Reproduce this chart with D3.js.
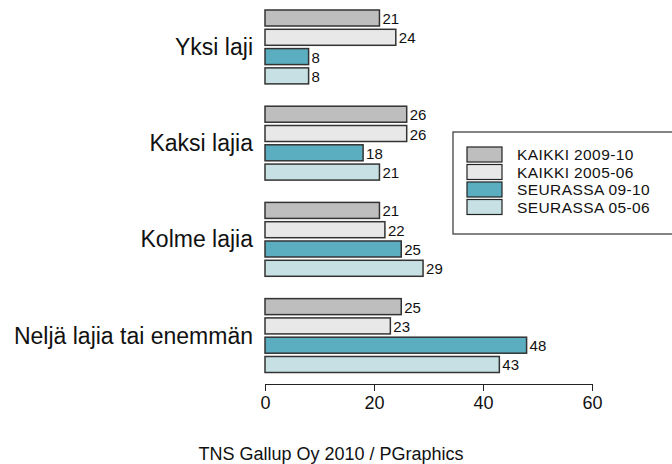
<!DOCTYPE html>
<html>
<head>
<meta charset="utf-8">
<script src="https://cdn.jsdelivr.net/npm/d3@7"></script>
<style>
  body { margin: 0; background: #fff; }
  text { font-family: "Liberation Sans", Arial, sans-serif; fill: #111; }
</style>
</head>
<body>
<div id="chart"></div>
<script>
// data
const groups = ["Yksi laji", "Kaksi lajia", "Kolme lajia", "Neljä lajia tai enemmän"];
const series = ["KAIKKI 2009-10", "KAIKKI 2005-06", "SEURASSA 09-10", "SEURASSA 05-06"];
const kaikki0910 = [21, 26, 21, 25];
const kaikki0506 = [24, 26, 22, 23];
const seurassa0910 = [8, 18, 25, 48];
const seurassa0506 = [8, 21, 29, 43];
const xTicks = [0, 20, 40, 60];
const colors = ["#bebebe", "#e8e8e8", "#5aaec0", "#c6e0e4"];

const values = [kaikki0910, kaikki0506, seurassa0910, seurassa0506];

const W = 672, H = 464;
const svg = d3.select("#chart").append("svg")
  .attr("width", W).attr("height", H);

const x = d3.scaleLinear().domain([0, 60]).range([265, 592]);

// group bands, then bars inside each group
const y0 = d3.scaleBand().domain(groups).range([10, 372.5]).paddingInner(0.232).paddingOuter(0);
const y1 = d3.scaleBand().domain(series).range([0, y0.bandwidth()]).paddingInner(0.17).paddingOuter(0);

const g = svg.selectAll("g.group")
  .data(groups)
  .enter().append("g")
  .attr("class", "group")
  .attr("transform", d => "translate(0," + y0(d) + ")");

g.append("text")
  .attr("x", 253)
  .attr("y", y0.bandwidth() / 2)
  .attr("dy", "0.35em")
  .attr("text-anchor", "end")
  .style("font-size", "23px")
  .text(d => d);

g.each(function(grp, gi) {
  const rows = series.map((s, si) => ({ s: s, v: values[si][gi], c: colors[si] }));
  const sel = d3.select(this);
  sel.selectAll("rect")
    .data(rows)
    .enter().append("rect")
    .attr("x", x(0))
    .attr("y", d => y1(d.s))
    .attr("width", d => x(d.v) - x(0))
    .attr("height", y1.bandwidth())
    .style("fill", d => d.c)
    .style("stroke", "#333")
    .style("stroke-width", "1.5px");
  sel.selectAll("text.val")
    .data(rows)
    .enter().append("text")
    .attr("class", "val")
    .attr("x", d => x(d.v) + 3)
    .attr("y", d => y1(d.s) + y1.bandwidth() / 2)
    .attr("dy", "0.4em")
    .style("font-size", "15px")
    .text(d => d.v);
});

// x axis, R style: line only between the outer ticks, ticks pointing down
const axis = svg.append("g")
  .attr("transform", "translate(0,384)")
  .call(d3.axisBottom(x).tickValues(xTicks).tickSize(7).tickPadding(5).tickSizeOuter(0));
axis.select(".domain").attr("stroke", "#222");
axis.selectAll(".tick line").attr("stroke", "#222");
axis.selectAll(".tick text")
  .style("font-size", "18px")
  .style("font-family", "'Liberation Sans', Arial, sans-serif")
  .attr("fill", "#111");

// legend
const leg = svg.append("g").attr("transform", "translate(453,132)");
leg.append("rect")
  .attr("x", 0).attr("y", 0)
  .attr("width", 225).attr("height", 102)
  .style("fill", "#fff")
  .style("stroke", "#333")
  .style("stroke-width", "1.2px");
const li = leg.selectAll("g.item")
  .data(series)
  .enter().append("g")
  .attr("class", "item")
  .attr("transform", (d, i) => "translate(0," + (15 + i * 17.5) + ")");
li.append("rect")
  .attr("x", 14).attr("y", 0)
  .attr("width", 35).attr("height", 15)
  .style("fill", (d, i) => colors[i])
  .style("stroke", "#222")
  .style("stroke-width", "1.2px");
li.append("text")
  .attr("x", 64).attr("y", 7.5)
  .attr("dy", "0.36em")
  .style("font-size", "15.5px")
  .style("letter-spacing", "0.4px")
  .text(d => d);

// source note
svg.append("text")
  .attr("x", 331).attr("y", 460)
  .attr("text-anchor", "middle")
  .style("font-size", "18px")
  .text("TNS Gallup Oy 2010 / PGraphics");
</script>
</body>
</html>
